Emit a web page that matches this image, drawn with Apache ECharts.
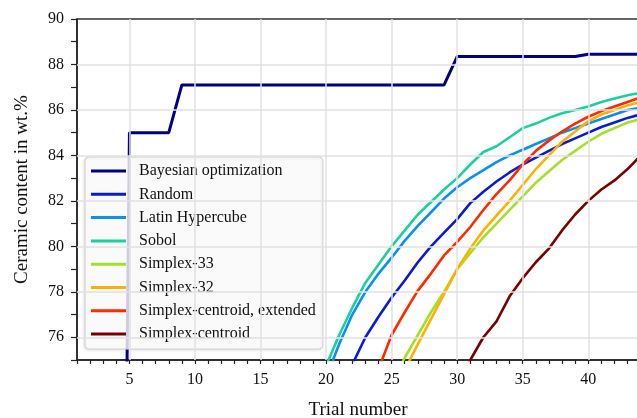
<!DOCTYPE html>
<html>
<head>
<meta charset="utf-8">
<script src="https://cdn.jsdelivr.net/npm/echarts@6/dist/echarts.min.js"></script>
<style>
  html, body { margin: 0; padding: 0; background: #fff; }
  #chart { width: 637px; height: 418px; }
</style>
</head>
<body>
<div id="chart"></div>
<script>
// best value found so far, per trial number
const bayesStart = 4
const bayes = [30, 85, 85, 85, 85, 87.1, 87.1, 87.1, 87.1, 87.1, 87.1, 87.1, 87.1, 87.1, 87.1,
  87.1, 87.1, 87.1, 87.1, 87.1, 87.1, 87.1, 87.1, 87.1, 87.1, 87.1, 88.35, 88.35, 88.35, 88.35,
  88.35, 88.35, 88.35, 88.35, 88.35, 88.35, 88.45, 88.45, 88.45, 88.45, 88.45]

const randomStart = 22
const random = [74.8, 76.0, 76.9, 77.75, 78.5, 79.3, 80.0, 80.6, 81.2, 81.9, 82.4, 82.85, 83.25,
  83.6, 83.9, 84.2, 84.5, 84.75, 85.0, 85.25, 85.45, 85.65, 85.8]

const latinStart = 20
const latin = [74.2, 75.7, 77.0, 78.0, 78.8, 79.5, 80.25, 80.9, 81.5, 82.1, 82.6, 83.0, 83.35,
  83.7, 84.0, 84.25, 84.5, 84.75, 85.0, 85.2, 85.4, 85.6, 85.8, 86.0, 86.1]

const sobolStart = 20
const sobol = [74.75, 76.1, 77.3, 78.4, 79.2, 80.0, 80.7, 81.4, 81.95, 82.5, 83.0, 83.6, 84.15,
  84.4, 84.8, 85.2, 85.4, 85.65, 85.85, 86.0, 86.15, 86.35, 86.5, 86.65, 86.75]

const s33Start = 25
const s33 = [74.0, 75.1, 76.1, 77.1, 78.0, 79.0, 79.7, 80.4, 81.0, 81.6, 82.2, 82.8, 83.3, 83.8,
  84.2, 84.6, 84.95, 85.2, 85.45, 85.6]

const s32Start = 26
const s32 = [74.55, 75.7, 76.8, 77.9, 79.0, 79.9, 80.7, 81.35, 82.0, 82.7, 83.4, 84.0, 84.6,
  85.05, 85.5, 85.8, 86.0, 86.2, 86.35]

const extStart = 24
const ext = [74.6, 76.1, 77.1, 78.05, 78.8, 79.6, 80.2, 80.85, 81.6, 82.3, 82.9, 83.6, 84.2,
  84.65, 85.05, 85.4, 85.7, 85.95, 86.15, 86.35, 86.55]

const centroidStart = 30
const centroid = [74.0, 75.0, 76.0, 76.7, 77.8, 78.6, 79.3, 79.9, 80.7, 81.4, 82.0, 82.5, 82.9,
  83.4, 84.0]

const names = ['Bayesian optimization', 'Random', 'Latin Hypercube', 'Sobol', 'Simplex-33',
  'Simplex-32', 'Simplex-centroid, extended', 'Simplex-centroid']
const colors = ['#000080', '#0a1ccc', '#0a90ee', '#1ccf9e', '#a4e02a', '#ffb000', '#ff2a00', '#7a0000']

const xGridLines = [5, 10, 15, 20, 25, 30, 35, 40]
const yGridLines = [76, 78, 80, 82, 84, 86, 88]

function pairs(start, vals) {
  return vals.map((v, i) => [start + i, v])
}

const allData = [
  pairs(bayesStart, bayes),
  pairs(randomStart, random),
  pairs(latinStart, latin),
  pairs(sobolStart, sobol),
  pairs(s33Start, s33),
  pairs(s32Start, s32),
  pairs(extStart, ext),
  pairs(centroidStart, centroid)
]

const font = 'Liberation Serif, Times New Roman, serif'

var chart = echarts.init(document.getElementById('chart'))

var series = [{
  // grid lines only (major ticks)
  type: 'line',
  name: 'grid',
  data: [],
  z: 1,
  silent: true,
  markLine: {
    silent: true,
    symbol: 'none',
    label: { show: false },
    lineStyle: { color: '#e2e2e2', width: 1.5, type: 'solid' },
    animation: false,
    data: xGridLines.map(v => ({ xAxis: v })).concat(yGridLines.map(v => ({ yAxis: v })))
  }
}]

names.forEach((n, i) => {
  series.push({
    type: 'line',
    name: n,
    data: allData[i],
    z: 3,
    symbol: 'none',
    clip: true,
    color: colors[i],
    lineStyle: { width: i == 0 ? 3 : 2.6, color: colors[i] }
  })
})

var option = {
  animation: false,
  grid: {
    left: 77,
    top: 19,
    right: -2,
    bottom: 58,
    outerBoundsMode: 'none',
    show: true,
    borderColor: '#333',
    borderWidth: 1.5
  },
  legend: {
    data: names,
    orient: 'vertical',
    left: 85,
    top: 157,
    icon: 'rect',
    itemWidth: 35,
    itemHeight: 3,
    itemGap: 7.3,
    padding: [6, 7, 7, 6],
    backgroundColor: 'rgba(255,255,255,0.8)',
    borderColor: '#cfcfcf',
    borderWidth: 1,
    borderRadius: 4,
    shadowColor: 'rgba(0,0,0,0.12)',
    shadowBlur: 3,
    shadowOffsetX: -1,
    shadowOffsetY: 1,
    textStyle: {
      fontFamily: font,
      fontSize: 16,
      color: '#111',
      padding: [0, 0, 0, 8]
    }
  },
  xAxis: {
    type: 'value',
    min: 1,
    max: 43.87,
    interval: 1,
    name: 'Trial number',
    nameLocation: 'middle',
    nameGap: 41,
    nameTextStyle: { fontFamily: font, fontSize: 19, color: '#111' },
    axisLine: { show: true, lineStyle: { color: '#222', width: 1.5 } },
    axisTick: { show: true, length: 4, lineStyle: { color: '#222', width: 1.2 } },
    axisLabel: {
      margin: 12,
      fontFamily: font,
      fontSize: 16,
      color: '#111',
      showMaxLabel: false,
      formatter: function (v) {
        return v % 5 === 0 ? String(v) : ''
      }
    },
    splitLine: { show: false }
  },
  yAxis: {
    type: 'value',
    min: 75,
    max: 90,
    interval: 1,
    name: 'Ceramic content in wt.%',
    nameLocation: 'middle',
    nameGap: 45,
    nameTextStyle: { fontFamily: font, fontSize: 19, color: '#111' },
    axisLine: { show: true, lineStyle: { color: '#222', width: 1.5 } },
    axisTick: { show: true, length: 6, lineStyle: { color: '#222', width: 1.2 } },
    axisLabel: {
      margin: 13,
      fontFamily: font,
      fontSize: 16,
      color: '#111',
      formatter: function (v) {
        return v % 2 === 0 ? String(v) : ''
      }
    },
    splitLine: { show: false }
  },
  series: series
}

chart.setOption(option)
</script>
</body>
</html>
